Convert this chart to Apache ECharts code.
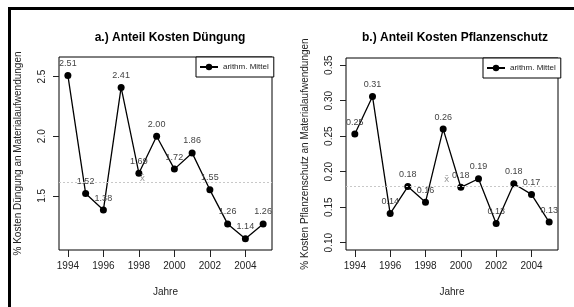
<!DOCTYPE html>
<html>
<head>
<meta charset="utf-8">
<script src="https://cdn.jsdelivr.net/npm/echarts@6/dist/echarts.min.js"></script>
<style>
  html, body { margin: 0; padding: 0; background: #fff; }
  #chart { width: 574px; height: 307px; }
</style>
</head>
<body>
<div id="chart"></div>
<script>
const years = [1994, 1995, 1996, 1997, 1998, 1999, 2000, 2001, 2002, 2003, 2004, 2005];
const duengung = [2.51, 1.52, 1.38, 2.41, 1.69, 2.00, 1.724, 1.86, 1.55, 1.264, 1.14, 1.264];
const pflanzenschutz = [0.253, 0.306, 0.141, 0.179, 0.157, 0.26, 0.178, 0.19, 0.127, 0.183, 0.168, 0.129];
const meanA = 1.607;
const meanB = 0.182;
const meanLabelA = [1998.2, 1.645];
const meanLabelB = [1999.2, 0.189];
const xTicks = [1994, 1996, 1998, 2000, 2002, 2004];
const yTicksA = [1.5, 2.0, 2.5];
const yTicksB = [0.10, 0.15, 0.20, 0.25, 0.30, 0.35];

const font = "Liberation Sans, Arial, sans-serif";
const chart = echarts.init(document.getElementById("chart"));

function xAxis(gridIndex) {
  return {
    type: "value",
    gridIndex,
    min: 1993.5,
    max: 2005.5,
    name: "Jahre",
    nameLocation: "middle",
    nameGap: 37,
    nameTextStyle: { fontFamily: font, fontSize: 10, color: "#222" },
    axisLine: { show: false },
    splitLine: { show: false },
    axisTick: { show: true, length: 7, customValues: xTicks, lineStyle: { color: "#222" } },
    axisLabel: {
      customValues: xTicks,
      margin: 11,
      fontFamily: font,
      fontSize: 10,
      color: "#222",
      formatter: (v) => String(v),
    },
  };
}

function yAxis(gridIndex, min, max, ticks, name, digits) {
  return {
    type: "value",
    gridIndex,
    min,
    max,
    name,
    nameLocation: "middle",
    nameGap: 36,
    nameTextStyle: { fontFamily: font, fontSize: 10, color: "#222" },
    axisLine: { show: false },
    splitLine: { show: false },
    axisTick: { show: true, length: 6, customValues: ticks, lineStyle: { color: "#222" } },
    axisLabel: {
      customValues: ticks,
      rotate: 90,
      margin: 12,
      fontFamily: font,
      fontSize: 10,
      color: "#222",
      formatter: (v) => v.toFixed(digits),
    },
  };
}

function lineSeries(idx, values, mean, meanLabel) {
  return {
    name: "arithm. Mittel",
    type: "line",
    xAxisIndex: idx,
    yAxisIndex: idx,
    data: years.map((y, i) => [y, values[i]]),
    symbol: "circle",
    symbolSize: 7,
    itemStyle: { color: "#000" },
    lineStyle: { color: "#000", width: 1.3 },
    label: {
      show: true,
      position: "top",
      distance: 4,
      fontFamily: font,
      fontSize: 9,
      color: "#444",
      formatter: (p) => p.value[1].toFixed(2),
    },
    markLine: {
      silent: true,
      symbol: "none",
      label: { show: false },
      lineStyle: { color: "#c8c8c8", type: [2, 2], width: 1 },
      data: [{ yAxis: mean }],
    },
    markPoint: {
      symbol: "circle",
      symbolSize: 0,
      label: {
        show: true,
        formatter: "x\u0304",
        fontFamily: "DejaVu Sans, sans-serif",
        fontSize: 9,
        color: "#999",
      },
      data: [{ coord: meanLabel }],
    },
    animation: false,
  };
}

const legendStyle = {
  orient: "vertical",
  borderColor: "#000",
  borderWidth: 1,
  borderRadius: 0,
  backgroundColor: "#fff",
  padding: [6, 5, 6, 3],
  itemWidth: 18,
  itemHeight: 8,
  itemGap: 4,
  textStyle: { fontFamily: font, fontSize: 8, color: "#222" },
};

chart.setOption({
  animation: false,
  title: [
    {
      text: "a.) Anteil Kosten Düngung",
      left: 165, top: 27, textAlign: "center",
      textStyle: { fontFamily: font, fontSize: 12, fontWeight: "bold", color: "#000" },
    },
    {
      text: "b.) Anteil Kosten Pflanzenschutz",
      left: 450, top: 27, textAlign: "center",
      textStyle: { fontFamily: font, fontSize: 12, fontWeight: "bold", color: "#000" },
    },
  ],
  legend: [
    Object.assign({ left: 196, top: 57 }, legendStyle),
    Object.assign({ left: 483, top: 58 }, legendStyle),
  ],
  grid: [
    { left: 59, top: 57, width: 213, height: 193, show: true, borderColor: "#000", borderWidth: 1, backgroundColor: "transparent" },
    { left: 346, top: 58, width: 212, height: 192, show: true, borderColor: "#000", borderWidth: 1, backgroundColor: "transparent" },
  ],
  xAxis: [xAxis(0), xAxis(1)],
  yAxis: [
    yAxis(0, 1.045, 2.665, yTicksA, "% Kosten Düngung an Materialaufwendungen", 1),
    yAxis(1, 0.0897, 0.3601, yTicksB, "% Kosten Pflanzenschutz an Materialaufwendungen", 2),
  ],
  series: [
    lineSeries(0, duengung, meanA, meanLabelA),
    lineSeries(1, pflanzenschutz, meanB, meanLabelB),
  ],
  graphic: [
    { type: "line", shape: { x1: 8, y1: 8.5, x2: 574, y2: 8.5 }, style: { stroke: "#000", lineWidth: 3 } },
    { type: "line", shape: { x1: 9.5, y1: 7, x2: 9.5, y2: 307 }, style: { stroke: "#000", lineWidth: 3 } },
  ],
});
</script>
</body>
</html>
